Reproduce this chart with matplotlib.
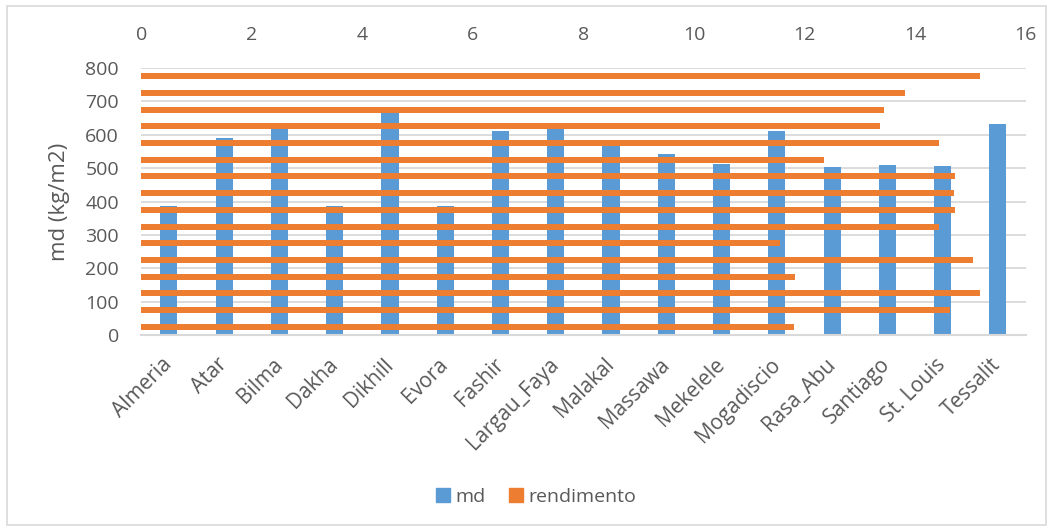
import matplotlib.pyplot as plt
import matplotlib.patches as mpatches
import matplotlib.transforms as mtransforms
import numpy as np

cities = ["Almeria", "Atar", "Bilma", "Dakha", "Dikhill", "Evora", "Fashir",
          "Largau_Faya", "Malakal", "Massawa", "Mekelele", "Mogadiscio",
          "Rasa_Abu", "Santiago", "St. Louis", "Tessalit"]
md = [388, 590, 619, 388, 667, 388, 612, 619, 584, 542, 511, 611,
      502, 508, 505, 632]
rendimento = [11.81, 14.63, 15.17, 11.83, 15.05, 11.56, 14.43, 14.72,
              14.70, 14.72, 12.35, 14.43, 13.36, 13.44, 13.82, 15.17]

BLUE = "#5B9BD5"
ORANGE = "#ED7D31"
GRAY = "#595959"
GRID = "#D9D9D9"

plt.rcParams["font.family"] = ["Open Sans", "DejaVu Sans"]

fig = plt.figure(figsize=(10.54, 5.31), dpi=100)
# chart border
fig.patches.append(mpatches.Rectangle((0.0066, 0.0113), 0.986, 0.977,
                                      transform=fig.transFigure, fill=False,
                                      edgecolor=GRID, linewidth=1.2))

ax = fig.add_axes([0.134, 0.369, 0.839, 0.503])
x = np.arange(len(cities))
ax.bar(x, md, width=0.31, color=BLUE, zorder=2, label="md")
ax.set_xlim(-0.5, len(cities) - 0.5)
ax.set_ylim(0, 800)
ax.set_yticks(range(0, 801, 100))
ax.yaxis.grid(True, color=GRID, linewidth=1.3, zorder=0)
ax.set_axisbelow(True)
ax.set_xticks(x)
ax.set_xticklabels(cities, rotation=45, ha="right", va="center",
                   rotation_mode="anchor", fontsize=15, color=GRAY)
shift = mtransforms.ScaledTranslation(-0.04, 0, fig.dpi_scale_trans)
for lbl in ax.get_xticklabels():
    lbl.set_transform(lbl.get_transform() + shift)
ax.tick_params(axis="y", labelsize=14, labelcolor=GRAY, length=0, pad=16)
ax.tick_params(axis="x", length=0, pad=19)
ax.set_ylabel("md (kg/m2)", fontsize=16, color=GRAY, labelpad=11)
for s in ["top", "right", "left"]:
    ax.spines[s].set_visible(False)
ax.spines["bottom"].set_color(GRID)
ax.spines["bottom"].set_linewidth(1.5)

# secondary axes for the horizontal bars
ax2 = ax.figure.add_axes(ax.get_position(), frameon=False)
ax2.barh(np.arange(len(cities)), rendimento, height=0.36, color=ORANGE, zorder=3)
ax2.set_ylim(-0.5, len(cities) - 0.5)
ax2.set_xlim(0, 16)
ax2.set_xticks(range(0, 17, 2))
ax2.xaxis.tick_top()
ax2.tick_params(axis="x", labelsize=14, labelcolor=GRAY, length=0, pad=17)
ax2.set_yticks([])

handles = [mpatches.Patch(color=BLUE, label="md"),
           mpatches.Patch(color=ORANGE, label="rendimento")]
fig.legend(handles=handles, loc="center", bbox_to_anchor=(0.509, 0.064),
           ncol=2, frameon=False, fontsize=14, handlelength=0.7,
           handleheight=0.7, handletextpad=0.3, columnspacing=1.2,
           labelcolor=GRAY)

fig.savefig("out.png", dpi=100)
